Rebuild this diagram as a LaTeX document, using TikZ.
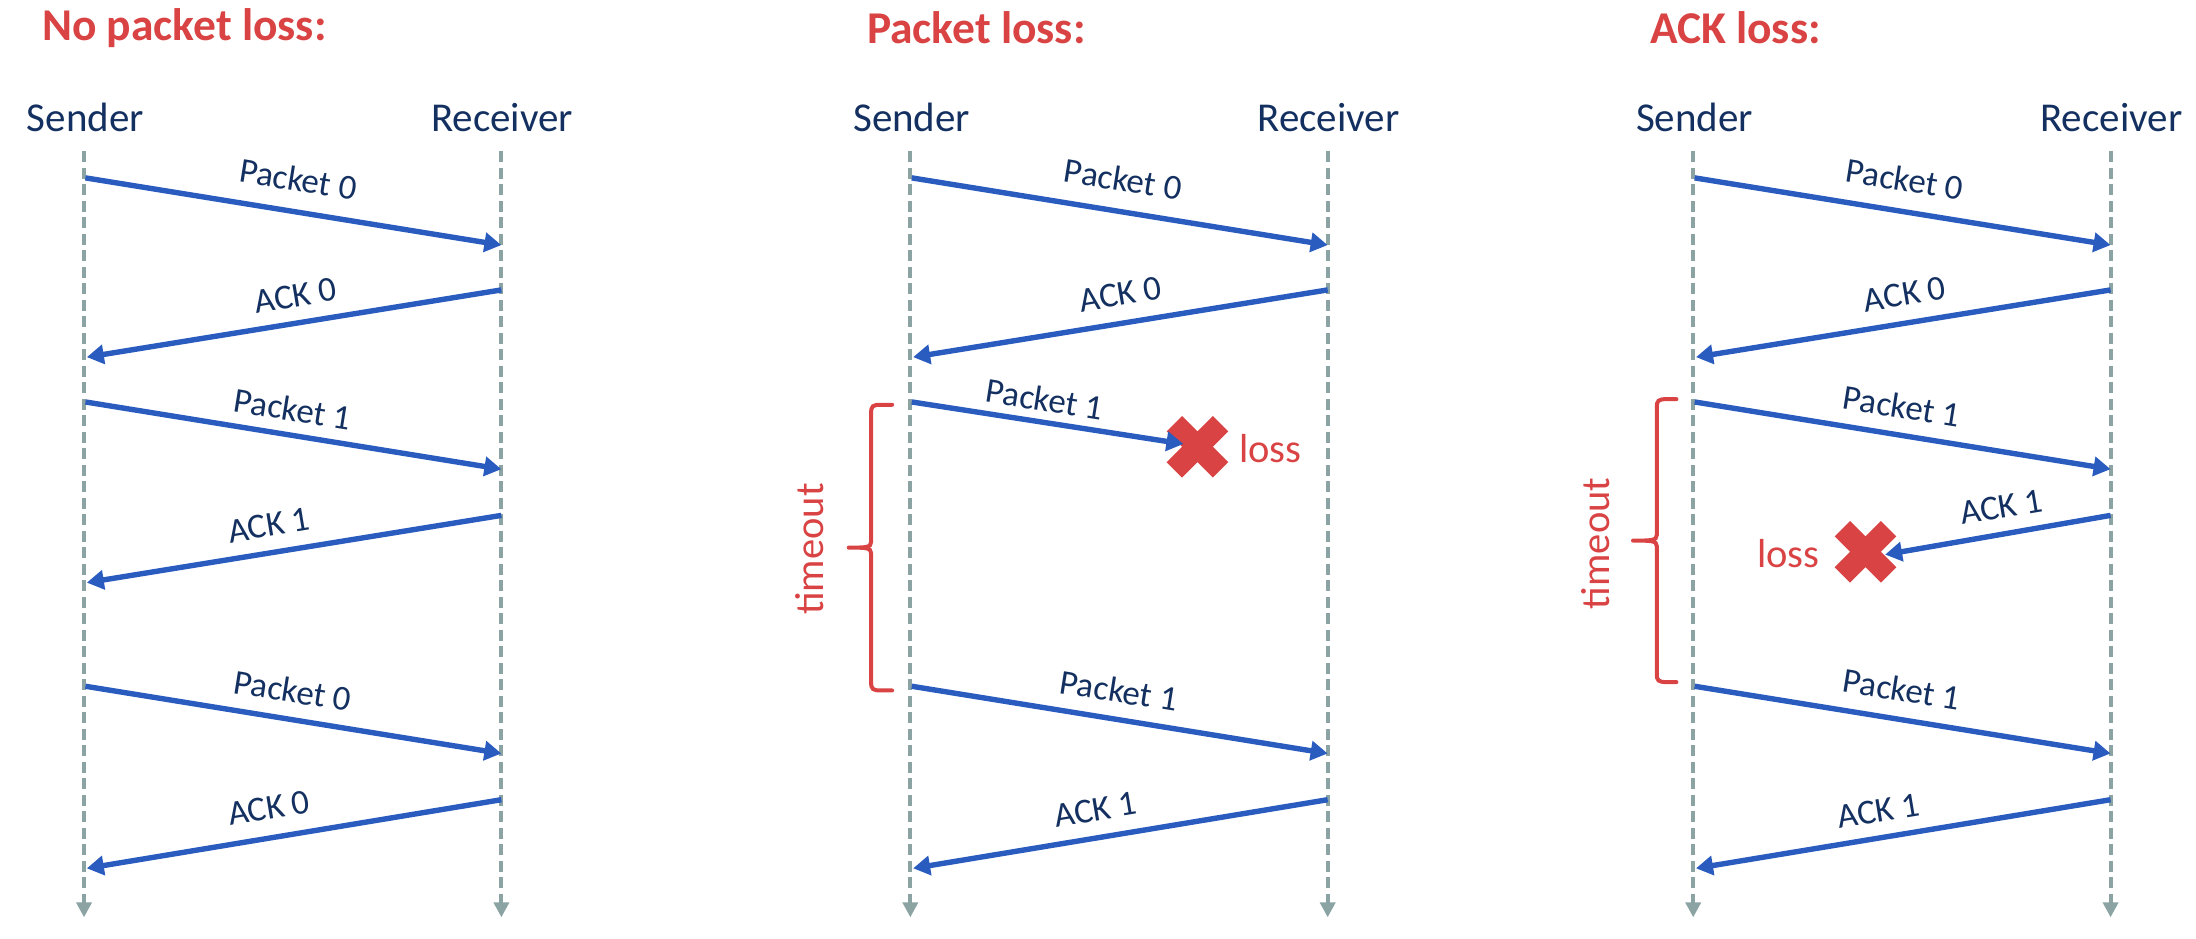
\documentclass[tikz,border=0pt]{standalone}
\usepackage{fontspec}
\setmainfont{Carlito}
\usetikzlibrary{arrows.meta}
\definecolor{cred}{HTML}{D94343}
\definecolor{cblue}{HTML}{2A5CBF}
\definecolor{cnavy}{HTML}{133060}
\definecolor{cgray}{HTML}{8CA3A3}
\tikzset{
  lifeline/.style={draw=cgray,line width=4pt,dash pattern=on 11pt off 5.5pt,-{Triangle[length=15pt,width=15pt,fill=cgray]}},
  msg/.style={draw=cblue,line width=5.4pt,-{Triangle[length=17pt,width=19pt]}},
  pkt/.style={text=cnavy,font=\fontsize{35}{37}\selectfont,inner sep=0pt},
  who/.style={text=cnavy,font=\fontsize{41}{43}\selectfont,inner sep=0pt},
  ttl/.style={text=cred,font=\fontsize{45.5}{47}\selectfont\bfseries,inner sep=0pt,anchor=west},
  redt/.style={text=cred,font=\fontsize{40.5}{42}\selectfont,inner sep=0pt},
  brc/.style={draw=cred,line width=4pt,line cap=round},
  crossmark/.style={fill=cred},
}
\newcommand{\crossat}[1]{\fill[crossmark,shift={(#1)}] (-11,-22)--(0,-11)--(11,-22)--(22,-11)--(11,0)--(22,11)--(11,22)--(0,11)--(-11,22)--(-22,11)--(-11,0)--(-22,-11)--cycle;}
\newcommand{\bracemark}[5]{% tip x, vert x, end x, top y, bottom y
  \pgfmathsetmacro{\mymid}{(#4+#5)/2}
  \draw[brc] (#3,#4) -- (#2+7,#4) .. controls (#2+1,#4) and (#2,#4+1) .. (#2,#4+6) -- (#2,\mymid-4) .. controls (#2,\mymid) and (#2-4,\mymid) .. (#1,\mymid)
   (#1,\mymid) .. controls (#2-4,\mymid) and (#2,\mymid) .. (#2,\mymid+4) -- (#2,#5-6) .. controls (#2,#5-1) and (#2+1,#5) .. (#2+7,#5) -- (#3,#5);}
\begin{document}
\begin{tikzpicture}[x=1.4005pt,y=-1.4005pt]
\useasboundingbox (0,0) rectangle (1568,670);
% panel 1
\node[ttl] (t1) at (30,20) {No packet loss:};
\node[who] (s1) at (61,84) {Sender};
\node[who] (r1) at (358.5,84) {Receiver};
\coordinate (s1t) at (60,108); \coordinate (s1b) at (60,655);
\coordinate (r1t) at (358,108); \coordinate (r1b) at (358,655);
\draw[lifeline] (s1t) -- (s1b);
\draw[lifeline] (r1t) -- (r1b);
\coordinate (a1) at (61,127); \coordinate (a2) at (358,175);
\coordinate (a3) at (358,207); \coordinate (a4) at (62,255);
\coordinate (a5) at (61,287); \coordinate (a6) at (358,335);
\coordinate (a7) at (358,368); \coordinate (a8) at (62,416);
\coordinate (a9) at (61,490); \coordinate (a10) at (358,538);
\coordinate (a11) at (358,571); \coordinate (a12) at (62,620);
\draw[msg] (a1) -- (a2);
\draw[msg] (a3) -- (a4);
\draw[msg] (a5) -- (a6);
\draw[msg] (a7) -- (a8);
\draw[msg] (a9) -- (a10);
\draw[msg] (a11) -- (a12);
\node[pkt,rotate=-9] (l1) at (213,128) {Packet 0};
\node[pkt,rotate=9.5] (l2) at (211,211) {ACK 0};
\node[pkt,rotate=-9] (l3) at (209,292) {Packet 1};
\node[pkt,rotate=9.5] (l4) at (192,375) {ACK 1};
\node[pkt,rotate=-9] (l5) at (209,493) {Packet 0};
\node[pkt,rotate=9.5] (l6) at (192,577) {ACK 0};
% panel 2
\node[ttl] (t2) at (619,20) {Packet loss:};
\node[who] (s2) at (651,84) {Sender};
\node[who] (r2) at (948.5,84) {Receiver};
\coordinate (s2t) at (650,108); \coordinate (s2b) at (650,655);
\coordinate (r2t) at (948,108); \coordinate (r2b) at (948,655);
\draw[lifeline] (s2t) -- (s2b);
\draw[lifeline] (r2t) -- (r2b);
\coordinate (b1) at (651,127); \coordinate (b2) at (948,175);
\coordinate (b3) at (948,207); \coordinate (b4) at (652,255);
\coordinate (b5) at (651,287); \coordinate (x2) at (855,319); \coordinate (b6) at (845,317);
\coordinate (b9) at (651,490); \coordinate (b10) at (948,538);
\coordinate (b11) at (948,571); \coordinate (b12) at (652,620);
\draw[msg] (b1) -- (b2);
\draw[msg] (b3) -- (b4);
\draw[msg] (b9) -- (b10);
\draw[msg] (b11) -- (b12);
\crossat{x2}
\draw[msg] (b5) -- (b6);
\node[pkt,rotate=-9] (m1) at (802,128) {Packet 0};
\node[pkt,rotate=9.5] (m2) at (800,210) {ACK 0};
\node[pkt,rotate=-9] (m3) at (746,285) {Packet 1};
\node[redt] (m4) at (907,320) {loss};
\node[pkt,rotate=-9] (m5) at (799,493) {Packet 1};
\node[pkt,rotate=9.5] (m6) at (782,578) {ACK 1};
\bracemark{606}{622}{637}{289}{493}
\node[redt,rotate=90] (m7) at (578,392) {timeout};
% panel 3
\node[ttl] (t3) at (1178,20) {ACK loss:};
\node[who] (s3) at (1210,84) {Sender};
\node[who] (r3) at (1507.5,84) {Receiver};
\coordinate (s3t) at (1209,108); \coordinate (s3b) at (1209,655);
\coordinate (r3t) at (1507,108); \coordinate (r3b) at (1507,655);
\draw[lifeline] (s3t) -- (s3b);
\draw[lifeline] (r3t) -- (r3b);
\coordinate (c1) at (1210,127); \coordinate (c2) at (1507,175);
\coordinate (c3) at (1507,207); \coordinate (c4) at (1211,255);
\coordinate (c5) at (1210,287); \coordinate (c6) at (1507,335);
\coordinate (c7) at (1507,368); \coordinate (c8) at (1346,396); \coordinate (x3) at (1332,394);
\coordinate (c9) at (1210,490); \coordinate (c10) at (1507,538);
\coordinate (c11) at (1507,571); \coordinate (c12) at (1211,620);
\draw[msg] (c1) -- (c2);
\draw[msg] (c3) -- (c4);
\draw[msg] (c5) -- (c6);
\draw[msg] (c9) -- (c10);
\draw[msg] (c11) -- (c12);
\crossat{x3}
\draw[msg] (c7) -- (c8);
\node[pkt,rotate=-9] (n1) at (1360,128) {Packet 0};
\node[pkt,rotate=9.5] (n2) at (1360,210) {ACK 0};
\node[pkt,rotate=-9] (n3) at (1358,290) {Packet 1};
\node[pkt,rotate=9.5] (n4) at (1429,362) {ACK 1};
\node[redt] (n5) at (1277,395) {loss};
\node[pkt,rotate=-9] (n6) at (1358,492) {Packet 1};
\node[pkt,rotate=9.5] (n7) at (1341,579) {ACK 1};
\bracemark{1166}{1183}{1197}{285}{487}
\node[redt,rotate=90] (n8) at (1139,388) {timeout};
\end{tikzpicture}
\end{document}
